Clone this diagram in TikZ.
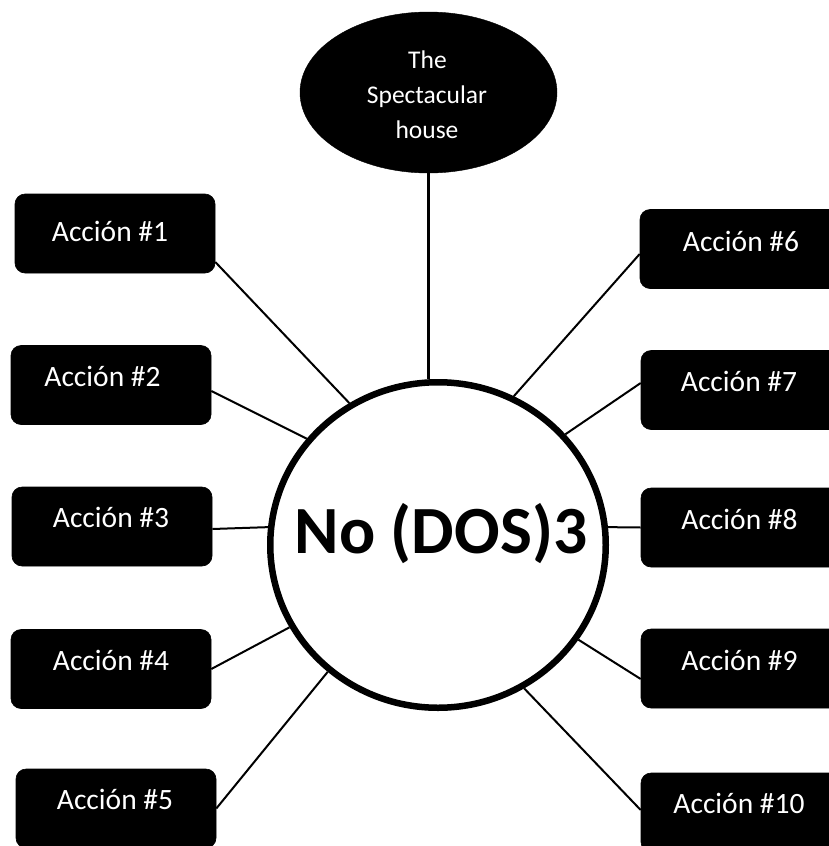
\documentclass[tikz,border=0pt]{standalone}
\usepackage{fontspec}
\setmainfont{Carlito}
\usetikzlibrary{shapes.geometric}
\begin{document}
\begin{tikzpicture}[x=1pt,y=-1pt,
  actbox/.style={draw=black, fill=black, rounded corners=10pt, minimum width=200pt, minimum height=79pt, inner sep=0pt, line width=0.6pt},
  acttext/.style={anchor=base, text=white, font=\fontsize{29.5}{34}\selectfont, inner sep=0pt},
  toptext/.style={anchor=base, text=white, font=\fontsize{25.5}{30}\selectfont, inner sep=0pt},
  spoke/.style={line width=2pt},
]
\clip (0,0) rectangle (829,846);
\fill[white] (0,0) rectangle (829,846);

% central circle
\node[ellipse, draw=black, fill=white, line width=6.5pt, minimum width=335.5pt, minimum height=325.5pt, inner sep=0pt] (c) at (438,545) {};
\node[anchor=base, font=\bfseries\fontsize{67.5}{72}\selectfont, inner sep=0pt] (ct) at (441,553) {No (DOS)3};

% top ellipse
\node[ellipse, draw=black, fill=black, minimum width=257pt, minimum height=161pt, inner sep=0pt] (e) at (428.5,92.5) {};
\node[toptext] (et1) at (427.5,68.3) {The};
\node[toptext] (et2) at (427,103.3) {Spectacular};
\node[toptext] (et3) at (427,138.3) {house};
\draw[line width=3pt] (e.south) -- (e.south |- c.north);

% left boxes
\node[actbox] (b1) at (115,233.5) {};
\node[acttext] (t1) at (110,241.7) {Acción \#1};
\node[actbox] (b2) at (111,385) {};
\node[acttext] (t2) at (102.5,386.7) {Acción \#2};
\node[actbox] (b3) at (112,526.5) {};
\node[acttext] (t3) at (111,527.3) {Acción \#3};
\node[actbox] (b4) at (111,669) {};
\node[acttext] (t4) at (111,670) {Acción \#4};
\node[actbox] (b5) at (116,808.5) {};
\node[acttext] (t5) at (115,809.3) {Acción \#5};

% right boxes
\node[actbox] (b6) at (740,249) {};
\node[acttext] (t6) at (741,251.7) {Acción \#6};
\node[actbox] (b7) at (741,390) {};
\node[acttext] (t7) at (739,391.7) {Acción \#7};
\node[actbox] (b8) at (741,527.5) {};
\node[acttext] (t8) at (739.5,529) {Acción \#8};
\node[actbox] (b9) at (741,668.5) {};
\node[acttext] (t9) at (739.5,670) {Acción \#9};
\node[actbox] (b10) at (741,812.5) {};
\node[acttext] (t10) at (739,813.3) {Acción \#10};

% spokes
\draw[spoke] ([yshift=-28.5pt]b1.east) -- (c.122.7);
\draw[spoke] ([yshift=-6pt]b2.east) -- (c.141.2);
\draw[spoke] ([yshift=-2.5pt]b3.east) -- (c.174.7);
\draw[spoke] (b4.east) -- (c.209);
\draw[spoke] (b5.east) -- (c.229.8);
\draw[spoke] ([yshift=-5pt]b6.west) -- (c.63.4);
\draw[spoke] ([yshift=7pt]b7.west) -- (c.41.4);
\draw[spoke] (b8.west) -- (c.6);
\draw[spoke] ([yshift=-10.5pt]b9.west) -- (c.-34.9);
\draw[spoke] ([yshift=2.5pt]b10.west) -- (c.-59.1);
\end{tikzpicture}
\end{document}
